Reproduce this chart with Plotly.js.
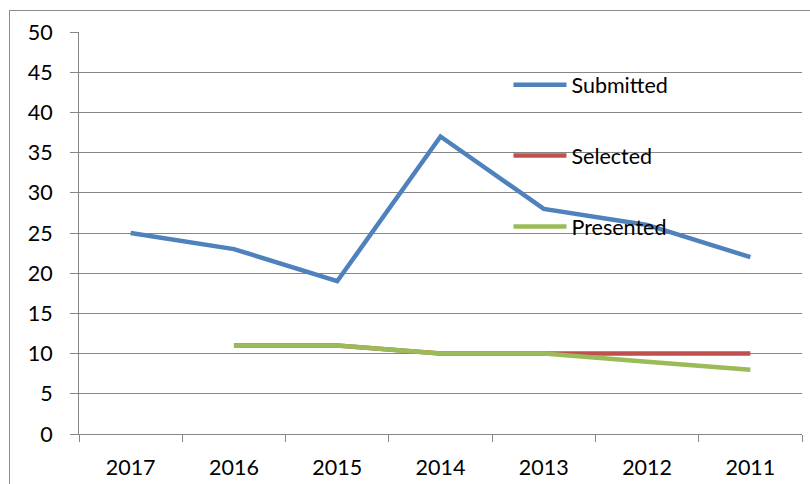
<!DOCTYPE html>
<html>
<head>
<meta charset="utf-8">
<script src="https://cdn.plot.ly/plotly-3.0.1.min.js"></script>
<style>
  html, body { margin: 0; padding: 0; background: #fff; }
  #wrap { position: relative; width: 810px; height: 484px; overflow: hidden; }
  #chart { width: 810px; height: 484px; }
  #frame { position: absolute; left: 9px; top: 10px; width: 820px; height: 500px;
           border: 1px solid #8c8c8c; pointer-events: none; box-sizing: border-box; }
</style>
</head>
<body>
<div id="wrap">
  <div id="chart"></div>
  <div id="frame"></div>
</div>
<script>
const years = ['2017', '2016', '2015', '2014', '2013', '2012', '2011'];
const submitted = [25, 23, 19, 37, 28, 26, 22];
const selected = [null, 11, 11, 10, 10, 10, 10];
const presented = [null, 11, 11, 10, 10, 9, 8];
const yTicks = [0, 5, 10, 15, 20, 25, 30, 35, 40, 45, 50];

const font = { family: 'Lato, "Open Sans", sans-serif', size: 21.5, color: '#000' };
const gridColor = '#868686';

function tr(name, y, color, group) {
  return {
    type: 'scatter', mode: 'lines', name: name, x: years, y: y,
    line: { color: color, width: 4.5 }, connectgaps: false, legendgroup: group
  };
}

const data = [
  tr('Submitted', submitted, '#4F81BD', 'a'),
  tr('Selected', selected, '#C0504D', 'b'),
  tr('Presented', presented, '#9BBB59', 'c')
];

const layout = {
  width: 810, height: 484,
  margin: { l: 79, r: 8, t: 32, b: 50 },
  paper_bgcolor: '#fff', plot_bgcolor: '#fff',
  font: font,
  showlegend: true,
  legend: {
    x: 0.594, xanchor: 'left', y: 0.92, yanchor: 'top',
    bgcolor: 'rgba(0,0,0,0)', font: font,
    traceorder: 'grouped', tracegroupgap: 40, itemwidth: 53
  },
  xaxis: {
    type: 'category', categoryorder: 'array', categoryarray: years,
    range: [-0.5, 6.5], tickson: 'boundaries',
    showline: true, linecolor: gridColor, linewidth: 1,
    ticks: 'outside', ticklen: 7, tickcolor: gridColor,
    showgrid: false, zeroline: false, tickfont: font, ticklabelstandoff: 14,
    fixedrange: true
  },
  yaxis: {
    range: [0, 50], tickvals: yTicks, ticktext: yTicks.map(String),
    showline: true, linecolor: gridColor, linewidth: 1,
    ticks: 'outside', ticklen: 8, tickcolor: gridColor,
    showgrid: true, gridcolor: gridColor, gridwidth: 1,
    zeroline: false, tickfont: font, ticklabelstandoff: 13,
    fixedrange: true
  }
};

Plotly.newPlot('chart', data, layout, { displayModeBar: false, staticPlot: true });
</script>
</body>
</html>
